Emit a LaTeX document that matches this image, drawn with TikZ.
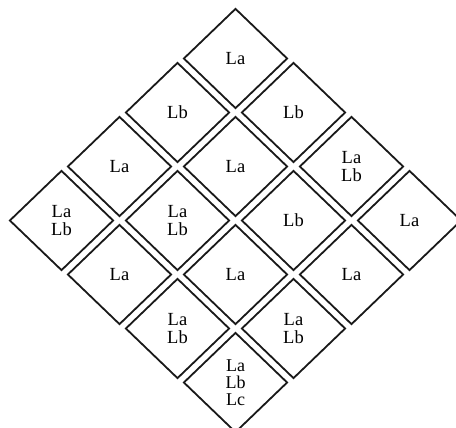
\documentclass[tikz,border=0pt]{standalone}
\usepackage{fontspec}
\setmainfont{Liberation Serif}
\usetikzlibrary{shapes.geometric}
\tikzset{
  cell/.style={draw=black!90, line width=1.8pt, shape=diamond, inner sep=0pt,
    minimum width=104pt, minimum height=100pt, align=center,
    font=\fontsize{18.5}{18.5}\selectfont},
  cellthree/.style={cell, font=\fontsize{18}{17}\selectfont}
}
\newcommand{\cpos}[2]{({235.5pt+58pt*((#2)-(#1))},{-(58.5pt+54pt*((#1)+(#2)))})}
\begin{document}
\begin{tikzpicture}
\useasboundingbox (0,0) rectangle (456pt,-428pt);
\clip (0,0) rectangle (456pt,-428pt);
\node[cell] (c00) at \cpos{0}{0} {La};
\node[cell] (c10) at \cpos{1}{0} {Lb};
\node[cell] (c01) at \cpos{0}{1} {Lb};
\node[cell] (c20) at \cpos{2}{0} {La};
\node[cell] (c11) at \cpos{1}{1} {La};
\node[cell] (c02) at \cpos{0}{2} {La\\Lb};
\node[cell] (c30) at \cpos{3}{0} {La\\Lb};
\node[cell] (c21) at \cpos{2}{1} {La\\Lb};
\node[cell] (c12) at \cpos{1}{2} {Lb};
\node[cell] (c03) at \cpos{0}{3} {La};
\node[cell] (c31) at \cpos{3}{1} {La};
\node[cell] (c22) at \cpos{2}{2} {La};
\node[cell] (c13) at \cpos{1}{3} {La};
\node[cell] (c32) at \cpos{3}{2} {La\\Lb};
\node[cell] (c23) at \cpos{2}{3} {La\\Lb};
\node[cellthree] (c33) at \cpos{3}{3} {La\\Lb\\Lc};
\end{tikzpicture}
\end{document}
